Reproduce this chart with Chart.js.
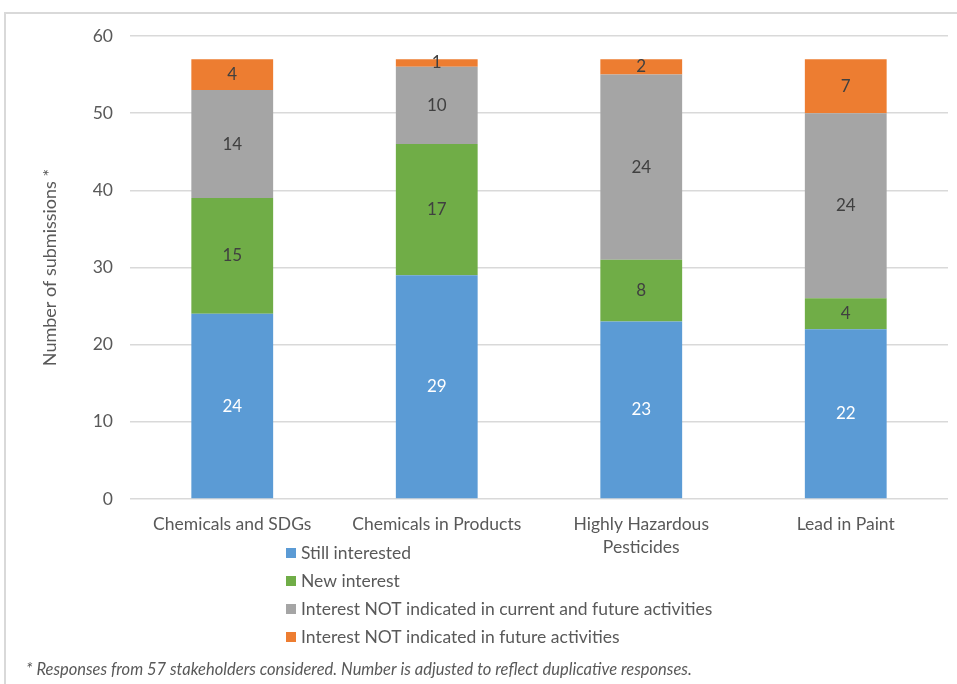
<!DOCTYPE html>
<html>
<head>
<meta charset="utf-8">
<script src="https://cdn.jsdelivr.net/npm/chart.js@4/dist/chart.umd.min.js"></script>
<style>
  body { margin: 0; background: #fff; }
  #box { position: absolute; left: 0; top: 0; width: 957px; height: 684px; }
  #moldura { position: absolute; left: 4px; top: 12px; width: 980px; height: 700px;
             border-left: 2px solid #d9d9d9; border-top: 2px solid #d9d9d9; }
</style>
</head>
<body>
<div id="box">
  <div id="moldura"></div>
  <canvas id="grafico" width="957" height="684" style="position:absolute;left:0;top:0"></canvas>
</div>
<script>
const categorias = ['Chemicals and SDGs', 'Chemicals in Products', ['Highly Hazardous', 'Pesticides'], 'Lead in Paint'];
const aindaInteressado = [24, 29, 23, 22];
const novoInteresse = [15, 17, 8, 4];
const naoIndicadoAtualFuturo = [14, 10, 24, 24];
const naoIndicadoFuturo = [4, 1, 2, 7];
const ticksY = [0, 10, 20, 30, 40, 50, 60];
const notaRodape = '* Responses from 57 stakeholders considered. Number is adjusted to reflect duplicative responses.';

const fonte = 'Lato, "Open Sans", sans-serif';
const cinzaTexto = '#595959';

// rotulos de valor no meio de cada segmento
const rotulosPlugin = {
    id: 'rotulos',
    afterDatasetsDraw(chart) {
        const c = chart.ctx;
        c.save();
        c.font = '17px ' + fonte;
        c.textAlign = 'center';
        c.textBaseline = 'middle';
        chart.data.datasets.forEach((ds, i) => {
            const meta = chart.getDatasetMeta(i);
            meta.data.forEach((bar, j) => {
                c.fillStyle = ds.labelColor;
                c.fillText(ds.data[j], bar.x, (bar.y + bar.base) / 2);
            });
        });
        c.restore();
    }
};

// legenda vertical + nota de rodape
const legendaPlugin = {
    id: 'legendaVertical',
    afterDraw(chart) {
        const c = chart.ctx;
        c.save();
        c.font = '17.5px ' + fonte;
        c.textBaseline = 'middle';
        chart.data.datasets.forEach((ds, i) => {
            const y = 553 + i * 28;
            c.fillStyle = ds.backgroundColor;
            c.fillRect(286, y - 5, 10, 10);
            c.fillStyle = cinzaTexto;
            c.fillText(ds.label, 301, y);
        });
        c.font = 'italic 16.5px ' + fonte;
        c.fillStyle = cinzaTexto;
        c.fillText(notaRodape, 26, 670);
        c.restore();
    }
};

const ctx = document.getElementById('grafico').getContext('2d');

const grafico = new Chart(ctx, {
    type: 'bar',
    data: {
        labels: categorias,
        datasets: [
            { label: 'Still interested', data: aindaInteressado, backgroundColor: '#5B9BD5', labelColor: '#ffffff' },
            { label: 'New interest', data: novoInteresse, backgroundColor: '#70AD47', labelColor: '#404040' },
            { label: 'Interest NOT indicated in current and future activities', data: naoIndicadoAtualFuturo, backgroundColor: '#A5A5A5', labelColor: '#404040' },
            { label: 'Interest NOT indicated in future activities', data: naoIndicadoFuturo, backgroundColor: '#ED7D31', labelColor: '#404040' }
        ]
    },
    options: {
        responsive: false,
        animation: false,
        layout: { padding: { top: 36, right: 9, bottom: 125, left: 0 } },
        datasets: { bar: { barPercentage: 0.4, categoryPercentage: 1 } },
        plugins: {
            legend: { display: false },
            tooltip: { enabled: false }
        },
        scales: {
            x: {
                stacked: true,
                grid: { display: false },
                border: { display: false },
                ticks: { color: cinzaTexto, font: { family: fonte, size: 17.5, lineHeight: 1.3 }, padding: 6, maxRotation: 0, autoSkip: false },
                afterFit(scale) { scale.height = 60; }
            },
            y: {
                stacked: true,
                min: 0,
                max: 60,
                afterBuildTicks(scale) { scale.ticks = ticksY.map(v => ({ value: v })); },
                grid: { color: '#d9d9d9', lineWidth: 1.5, drawTicks: false },
                border: { display: false },
                ticks: { color: cinzaTexto, font: { family: fonte, size: 17.5 }, padding: 17 },
                title: { display: true, text: 'Number of submissions *', color: cinzaTexto, font: { family: fonte, size: 18 }, padding: { top: 39, bottom: 0 } },
                afterFit(scale) { scale.width = 130; }
            }
        }
    },
    plugins: [rotulosPlugin, legendaPlugin]
});
</script>
</body>
</html>
